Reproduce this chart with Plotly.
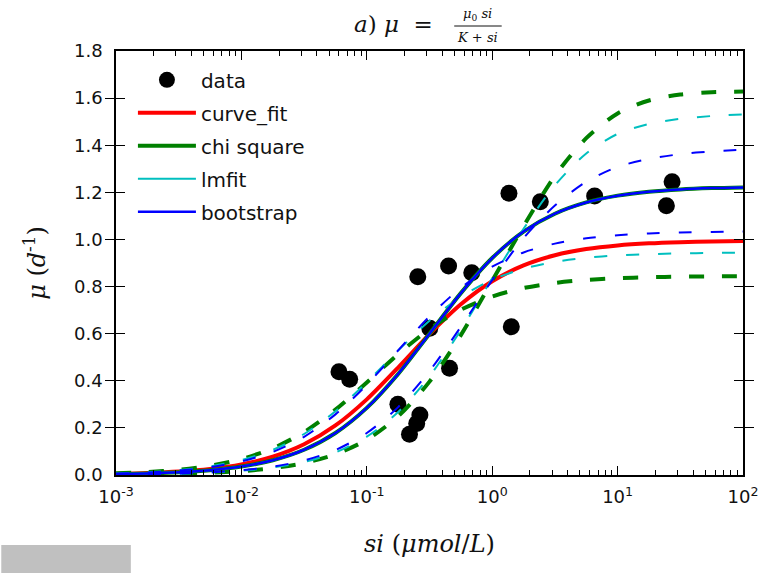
import plotly.graph_objects as go

# ---- data ----
si_data = [0.060, 0.073, 0.177, 0.219, 0.250, 0.265, 0.318, 0.457, 0.255, 0.449,
           0.687, 1.36, 1.42, 2.42, 6.56, 24.5, 27.2]
mu_data = [0.438, 0.406, 0.300, 0.173, 0.219, 0.255, 0.623, 0.453, 0.842, 0.887,
           0.859, 1.196, 0.629, 1.160, 1.184, 1.143, 1.245]

si_grid = [0.001, 0.0017783, 0.0031623, 0.0056234, 0.01, 0.017783, 0.031623, 0.056234,
           0.1, 0.17783, 0.31623, 0.56234, 1.0, 1.7783, 3.1623, 5.6234, 10.0, 17.783,
           31.623, 56.234, 100.0]

curve_fit_best = [0.0047, 0.0084, 0.0148, 0.0260, 0.0452, 0.0777, 0.1302, 0.2102, 0.3210,
                  0.4562, 0.5979, 0.7245, 0.8223, 0.8899, 0.9330, 0.9592, 0.9745, 0.9834,
                  0.9884, 0.9913, 0.9929]
best_fit = [0.0037, 0.0066, 0.0116, 0.0205, 0.0360, 0.0626, 0.1071, 0.1784, 0.2849,
            0.4290, 0.5995, 0.7720, 0.9211, 1.0333, 1.1093, 1.1571, 1.1859, 1.2027,
            1.2124, 1.2179, 1.2210]
chi_upper = [0.0016, 0.0029, 0.0052, 0.0092, 0.0163, 0.0288, 0.0506, 0.0878, 0.1500,
             0.2491, 0.3964, 0.5939, 0.8250, 1.0561, 1.2700, 1.4300, 1.5350, 1.5900,
             1.6150, 1.6250, 1.6280]
chi_lower = [0.0073, 0.0129, 0.0226, 0.0394, 0.0676, 0.1132, 0.1822, 0.2775, 0.3930,
             0.5132, 0.6197, 0.7015, 0.7579, 0.7937, 0.8154, 0.8281, 0.8354, 0.8396,
             0.8419, 0.8433, 0.8440]
lmfit_upper = [0.0018, 0.0032, 0.0057, 0.0102, 0.0180, 0.0317, 0.0554, 0.0959, 0.1626,
               0.2673, 0.4189, 0.6152, 0.8351, 1.0453, 1.2300, 1.3650, 1.4480, 1.4900,
               1.5120, 1.5240, 1.5310]
lmfit_lower = [0.0067, 0.0119, 0.0209, 0.0365, 0.0630, 0.1065, 0.1741, 0.2708, 0.3938,
               0.5287, 0.6550, 0.7566, 0.8290, 0.8760, 0.9049, 0.9221, 0.9320, 0.9376,
               0.9408, 0.9427, 0.9437]
boot_upper = [0.0020, 0.0036, 0.0064, 0.0114, 0.0201, 0.0354, 0.0618, 0.1062, 0.1782,
              0.2882, 0.4412, 0.6292, 0.8274, 1.0055, 1.1440, 1.2450, 1.3080, 1.3420,
              1.3620, 1.3740, 1.3806]
boot_lower = [0.0061, 0.0107, 0.0189, 0.0331, 0.0575, 0.0980, 0.1623, 0.2573, 0.3833,
              0.5291, 0.6731, 0.7947, 0.8846, 0.9447, 0.9822, 1.0046, 1.0177, 1.0252,
              1.0295, 1.0319, 1.0332]

x_tickvals = [0.001, 0.01, 0.1, 1, 10, 100]
x_ticktext = ["10<sup>-3</sup>", "10<sup>-2</sup>", "10<sup>-1</sup>", "10<sup>0</sup>",
              "10<sup>1</sup>", "10<sup>2</sup>"]

RED = "#ff0000"
GREEN = "#008000"
CYAN = "#00bfbf"
BLUE = "#0000ff"

fig = go.Figure()

fig.add_trace(go.Scatter(x=si_data, y=mu_data, mode="markers", name="data",
                         legendgroup="data",
                         marker=dict(color="black", size=17)))


def curve(y, color, width, dash, name, group, show):
    fig.add_trace(go.Scatter(x=si_grid, y=y, mode="lines", name=name,
                             legendgroup=group, showlegend=show,
                             line=dict(color=color, width=width, dash=dash,
                                       shape="spline", smoothing=0.8)))


curve(curve_fit_best, RED, 4, "solid", "curve_fit", "cf", True)
curve(best_fit, GREEN, 4, "solid", "chi square", "chi", True)
curve(chi_upper, GREEN, 4, "15px,18px", "chi square", "chi", False)
curve(chi_lower, GREEN, 4, "15px,18px", "chi square", "chi", False)
curve(best_fit, CYAN, 2, "solid", "lmfit", "lm", True)
curve(lmfit_upper, CYAN, 2, "13px,19px", "lmfit", "lm", False)
curve(lmfit_lower, CYAN, 2, "13px,19px", "lmfit", "lm", False)
curve(best_fit, BLUE, 2.5, "solid", "bootstrap", "bs", True)
curve(boot_upper, BLUE, 2, "13px,19px", "bootstrap", "bs", False)
curve(boot_lower, BLUE, 2, "13px,19px", "bootstrap", "bs", False)

# empty helper trace so the top (mirrored) log axis with minor ticks is drawn
fig.add_trace(go.Scatter(x=[1], y=[None], xaxis="x2", showlegend=False,
                         hoverinfo="skip", mode="markers"))

tickfont = dict(family="DejaVu Sans", size=18, color="#111")
serif = "DejaVu Serif"

fig.update_layout(
    xaxis=dict(type="log", range=[-3, 2], tickvals=x_tickvals, ticktext=x_ticktext,
               ticks="inside", ticklen=9, tickwidth=1.2, tickcolor="black",
               showline=True, linecolor="black", linewidth=1.5, mirror=True,
               showgrid=False, zeroline=False, tickfont=tickfont,
               ticklabelstandoff=5,
               minor=dict(ticks="inside", ticklen=5, tickwidth=1, tickcolor="black",
                          dtick="D1", showgrid=False),
               title=dict(text="<i>si</i> (<i>μmol</i>/<i>L</i>)",
                          font=dict(family=serif, size=24, color="#111"),
                          standoff=29)),
    xaxis2=dict(type="log", range=[-3, 2], overlaying="x", side="top",
                tickvals=x_tickvals, showticklabels=False,
                ticks="inside", ticklen=9, tickwidth=1.2, tickcolor="black",
                showline=False, showgrid=False, zeroline=False,
                minor=dict(ticks="inside", ticklen=5, tickwidth=1, tickcolor="black",
                           dtick="D1", showgrid=False)),
    yaxis=dict(range=[0, 1.8], dtick=0.2, tickformat=".1f",
               ticks="inside", ticklen=9, tickwidth=1.2, tickcolor="black",
               showline=True, linecolor="black", linewidth=1.5, mirror="allticks",
               showgrid=False, zeroline=False, tickfont=tickfont,
               ticklabelstandoff=8,
               title=dict(text="<i>μ</i> (<i>d</i><sup>-1</sup>)",
                          font=dict(family=serif, size=24, color="#111"),
                          standoff=22)),
)


def px_to_paper(px, py):
    return (px - 116) / 634.0, (475 - py) / 424.0


ann = []
x0, y0 = px_to_paper(397, 24)
ann.append(dict(x=x0, y=y0, xref="paper", yref="paper", showarrow=False,
                xanchor="center", yanchor="middle",
                text="<i>a</i>) <i>μ</i>  =", font=dict(family=serif, size=23, color="#111")))
x1, y1 = px_to_paper(482, 15)
ann.append(dict(x=x1, y=y1, xref="paper", yref="paper", showarrow=False,
                xanchor="center", yanchor="middle",
                text="<i>μ</i><sub>0</sub> <i>si</i>", font=dict(family=serif, size=13, color="#111")))
x2, y2 = px_to_paper(482, 37)
ann.append(dict(x=x2, y=y2, xref="paper", yref="paper", showarrow=False,
                xanchor="center", yanchor="middle",
                text="<i>K</i> + <i>si</i>", font=dict(family=serif, size=13, color="#111")))
bx0, by = px_to_paper(458, 26)
bx1, _ = px_to_paper(506, 26)

shapes = [dict(type="line", xref="paper", yref="paper", x0=bx0, x1=bx1, y0=by, y1=by,
               line=dict(color="#111", width=1)),
          dict(type="rect", xref="paper", yref="paper",
               x0=(0 - 116) / 634.0, x1=(131 - 116) / 634.0,
               y0=(475 - 545) / 424.0, y1=(475 - 580) / 424.0,
               fillcolor="#c0c0c0", line=dict(width=0), layer="above")]

fig.update_layout(
    width=770, height=573,
    margin=dict(l=116, r=20, t=51, b=98),
    plot_bgcolor="white", paper_bgcolor="white",
    annotations=ann, shapes=shapes,
    showlegend=True,
    legend=dict(x=0.027, y=0.978, xanchor="left", yanchor="top",
                bgcolor="rgba(0,0,0,0)", borderwidth=0,
                font=dict(family="DejaVu Sans", size=20, color="#111"),
                tracegroupgap=4, itemwidth=58, itemsizing="trace"),
)

fig.write_html("out.html")
